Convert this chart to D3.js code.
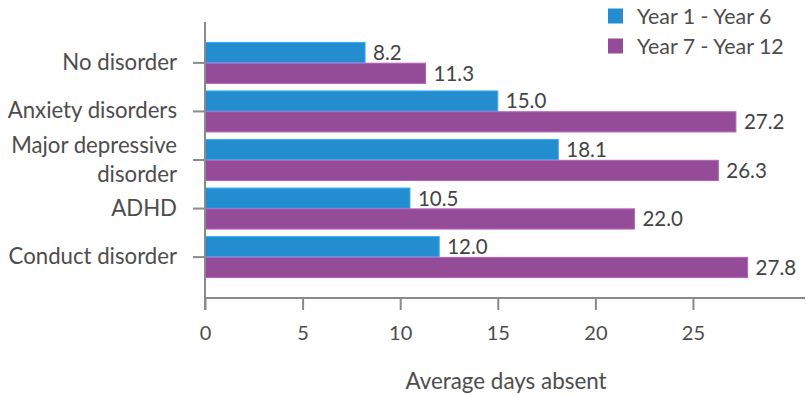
<!DOCTYPE html>
<html>
<head>
<meta charset="utf-8">
<script src="https://cdn.jsdelivr.net/npm/d3@7"></script>
<style>
  body { margin: 0; background: #fff; }
  svg { font-family: "Lato", "Noto Sans", sans-serif; }
</style>
</head>
<body>
<div id="chart"></div>
<script>
// data
const categories = ["No disorder", "Anxiety disorders", "Major depressive disorder", "ADHD", "Conduct disorder"];
const seriesNames = ["Year 1 - Year 6", "Year 7 - Year 12"];
const primaryValues = [8.2, 15.0, 18.1, 10.5, 12.0];
const secondaryValues = [11.3, 27.2, 26.3, 22.0, 27.8];
const xTicks = [0, 5, 10, 15, 20, 25];
const colors = ["#238dcf", "#954c98"];

const W = 806, H = 395;
const plotLeft = 205, plotRight = 805, plotTop = 22, plotBottom = 298;

const svg = d3.select("#chart").append("svg")
  .attr("width", W)
  .attr("height", H);

const x = d3.scaleLinear()
  .domain([0, 30.74])
  .range([plotLeft, plotRight]);

const y = d3.scaleBand()
  .domain(categories)
  .range([plotTop, plotBottom])
  .paddingInner(0.156)
  .paddingOuter(0.42);

const sub = d3.scaleBand()
  .domain([0, 1])
  .range([0, y.bandwidth()])
  .paddingInner(0.03);

// rows
const rows = categories.map(function(c, i) {
  return { name: c, vals: [primaryValues[i], secondaryValues[i]] };
});

const g = svg.selectAll(".row")
  .data(rows)
  .enter().append("g")
  .attr("class", "row")
  .attr("transform", function(d) { return "translate(0," + y(d.name) + ")"; });

g.selectAll("rect")
  .data(function(d) { return d.vals; })
  .enter().append("rect")
  .attr("x", x(0))
  .attr("y", function(d, i) { return sub(i); })
  .attr("width", function(d) { return x(d) - x(0); })
  .attr("height", sub.bandwidth())
  .attr("fill", function(d, i) { return colors[i]; })
  .attr("stroke", function(d, i) { return d3.color(colors[i]).brighter(0.6); })
  .attr("stroke-width", 1);

g.selectAll("text.val")
  .data(function(d) { return d.vals; })
  .enter().append("text")
  .attr("class", "val")
  .attr("x", function(d) { return x(d) + 8; })
  .attr("y", function(d, i) { return sub(i) + sub.bandwidth() / 2; })
  .attr("dy", "0.36em")
  .attr("font-size", "20.5px")
  .attr("fill", "#444")
  .text(function(d) { return d.toFixed(1); });

// y axis
svg.append("line")
  .attr("x1", plotLeft).attr("x2", plotLeft)
  .attr("y1", plotTop).attr("y2", 310)
  .attr("stroke", "#8a8a8a").attr("stroke-width", 2);

const yt = svg.selectAll(".ytick")
  .data(categories)
  .enter().append("g")
  .attr("class", "ytick")
  .attr("transform", function(d) { return "translate(0," + (y(d) + y.bandwidth() / 2) + ")"; });

yt.append("line")
  .attr("x1", plotLeft - 12).attr("x2", plotLeft)
  .attr("stroke", "#8a8a8a").attr("stroke-width", 2);

yt.append("text")
  .attr("x", plotLeft - 28)
  .attr("text-anchor", "end")
  .attr("font-size", "22.2px")
  .attr("fill", "#4d4d4d")
  .each(function(d) {
    const t = d3.select(this);
    const lines = d === "Major depressive disorder" ? ["Major depressive", "disorder"] : [d];
    const lh = 29;
    lines.forEach(function(l, k) {
      t.append("tspan")
        .attr("x", plotLeft - 28)
        .attr("y", (k - (lines.length - 1) / 2) * lh - 1)
        .attr("dy", "0.36em")
        .text(l);
    });
  });

// x axis
const xAxis = d3.axisBottom(x)
  .tickValues(xTicks)
  .tickSize(12)
  .tickPadding(16)
  .tickFormat(d3.format("d"));

const ax = svg.append("g")
  .attr("transform", "translate(0," + plotBottom + ")")
  .call(xAxis);

ax.select(".domain")
  .attr("d", "M" + plotLeft + ",0H" + plotRight)
  .attr("stroke", "#8a8a8a").attr("stroke-width", 2);
ax.selectAll(".tick line").attr("stroke", "#8a8a8a").attr("stroke-width", 2);
ax.selectAll(".tick text")
  .attr("font-size", "20px")
  .attr("font-family", "Lato, 'Noto Sans', sans-serif")
  .attr("fill", "#4d4d4d");

svg.append("text")
  .attr("x", 506)
  .attr("y", 381)
  .attr("dy", "0.36em")
  .attr("text-anchor", "middle")
  .attr("font-size", "22.4px")
  .attr("fill", "#4d4d4d")
  .text("Average days absent");

// legend
const lg = svg.selectAll(".legend")
  .data(seriesNames)
  .enter().append("g")
  .attr("class", "legend")
  .attr("transform", function(d, i) { return "translate(608," + (16 + i * 30) + ")"; });

lg.append("rect")
  .attr("x", 0).attr("y", -7.5)
  .attr("width", 15).attr("height", 15)
  .attr("fill", function(d, i) { return colors[i]; });

lg.append("text")
  .attr("x", 29)
  .attr("dy", "0.36em")
  .attr("font-size", "21.4px")
  .attr("fill", "#4d4d4d")
  .text(function(d) { return d; });
</script>
</body>
</html>
